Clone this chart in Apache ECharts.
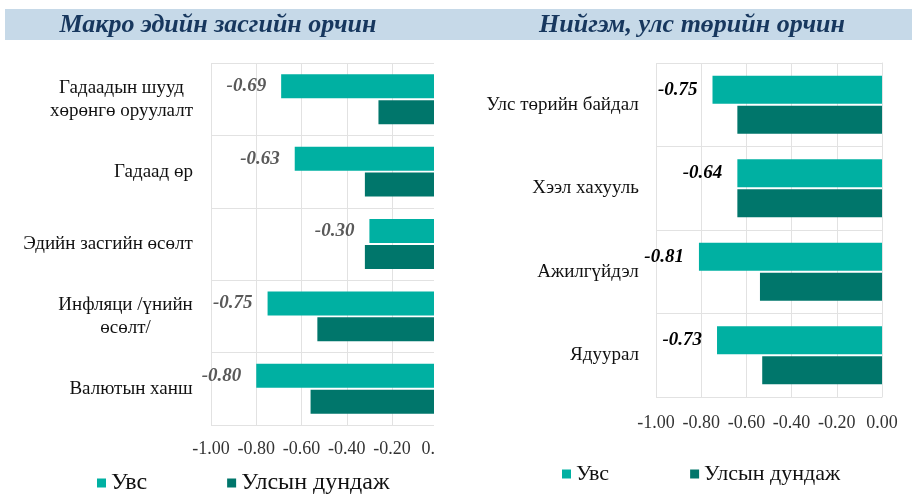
<!DOCTYPE html>
<html>
<head>
<meta charset="utf-8">
<script src="https://cdn.jsdelivr.net/npm/echarts@6/dist/echarts.min.js"></script>
<style>
html,body{margin:0;padding:0;background:#fff;}
#chart{width:912px;height:495px;}
</style>
</head>
<body>
<div id="chart"></div>
<script>
// ---- Data ----
const titleLeft = 'Макро эдийн засгийн орчин';
const titleRight = 'Нийгэм, улс төрийн орчин';
const seriesNames = ['Увс', 'Улсын дундаж'];

const catsLeft = ['Гадаадын шууд\nхөрөнгө оруулалт', 'Гадаад өр', 'Эдийн засгийн өсөлт', 'Инфляци /үнийн\nөсөлт/', 'Валютын ханш'];
const uvsLeft = [-0.69, -0.63, -0.30, -0.75, -0.80];
const avgLeft = [-0.26, -0.32, -0.32, -0.53, -0.56];

const catsRight = ['Улс төрийн байдал', 'Хээл хахууль', 'Ажилгүйдэл', 'Ядуурал'];
const uvsRight = [-0.75, -0.64, -0.81, -0.73];
const avgRight = [-0.64, -0.64, -0.54, -0.53];

const xMin = -1, xMax = 0, xInterval = 0.2;

// ---- Styles ----
const SERIF = '"Liberation Serif", "Times New Roman", serif';
const cLight = '#00B0A2';
const cDark = '#00766B';
const gridColor = '#E2E2E2';

const measureCtx = document.createElement('canvas').getContext('2d');
function buildRich(cats, size, lh) {
  measureCtx.font = size + 'px ' + SERIF;
  const rich = {};
  cats.forEach((c, i) => {
    const lines = c.split('\n');
    const w = Math.ceil(Math.max.apply(null, lines.map(l => measureCtx.measureText(l).width)));
    rich['c' + i] = {width: w, align: 'center', fontSize: size, fontFamily: SERIF, color: '#111', lineHeight: lh};
  });
  return rich;
}
function richFormatter(cats) {
  return function (val) {
    const i = cats.indexOf(val);
    return val.split('\n').map(l => '{c' + i + '|' + l + '}').join('\n');
  };
}

function xAxisCfg(gridIndex, margin) {
  return {
    gridIndex: gridIndex, type: 'value', min: xMin, max: xMax, interval: xInterval,
    axisLine: {show: false}, axisTick: {show: false},
    splitLine: {show: true, lineStyle: {color: gridColor, width: 1}},
    axisLabel: {formatter: v => v.toFixed(2), fontFamily: SERIF, fontSize: 18, color: '#333', margin: margin}
  };
}
function yAxisCfg(gridIndex, cats, margin) {
  return {
    gridIndex: gridIndex, type: 'category', data: cats, inverse: true,
    axisLine: {show: true, lineStyle: {color: gridColor}}, axisTick: {show: false},
    splitLine: {show: true, lineStyle: {color: gridColor, width: 1}},
    axisLabel: {margin: margin, fontFamily: SERIF, fontSize: 19, color: '#111', lineHeight: 23,
      formatter: richFormatter(cats), rich: buildRich(cats, 19, 23)}
  };
}
function barSeries(name, data, axisIdx, color, width, gap, label, labelColor) {
  const s = {
    name: name, type: 'bar', xAxisIndex: axisIdx, yAxisIndex: axisIdx, data: data,
    barWidth: width, barGap: gap,
    itemStyle: {color: color},
    animation: false
  };
  if (label) {
    s.label = {show: true, position: 'left', distance: 15, formatter: p => p.value.toFixed(2),
      fontFamily: SERIF, fontSize: 19, fontWeight: 'bold', fontStyle: 'italic', color: labelColor};
  }
  return s;
}

const chart = echarts.init(document.getElementById('chart'), null, {renderer: 'canvas'});
chart.setOption({
  backgroundColor: '#fff',
  animation: false,
  grid: [
    {left: 211, right: 912 - 437.3, top: 63, bottom: 495 - 425},
    {left: 656, right: 912 - 882, top: 63, bottom: 495 - 397}
  ],
  xAxis: [xAxisCfg(0, 15), xAxisCfg(1, 17)],
  yAxis: [yAxisCfg(0, catsLeft, 18), yAxisCfg(1, catsRight, 17)],
  legend: [
    {left: 97, top: 471, padding: 0, itemWidth: 9, itemHeight: 9, icon: 'rect', itemGap: 80, data: seriesNames,
      textStyle: {fontFamily: SERIF, fontSize: 24, color: '#111'}, selectedMode: false},
    {left: 562, top: 463, padding: 0, itemWidth: 9, itemHeight: 9, icon: 'rect', itemGap: 81, data: seriesNames,
      textStyle: {fontFamily: SERIF, fontSize: 22, color: '#111'}, selectedMode: false}
  ],
  series: [
    barSeries(seriesNames[0], uvsLeft, 0, cLight, 24, '8%', true, '#595959'),
    barSeries(seriesNames[1], avgLeft, 0, cDark, 24, '8%', false),
    barSeries(seriesNames[0], uvsRight, 1, cLight, 28, '7%', true, '#000'),
    barSeries(seriesNames[1], avgRight, 1, cDark, 28, '7%', false)
  ],
  graphic: [
    {type: 'rect', left: 5, top: 9, shape: {width: 907, height: 31}, style: {fill: '#C6D9E8'}, silent: true},
    {type: 'rect', left: 434, top: 52, shape: {width: 20, height: 410}, style: {fill: '#fff'}, silent: true, z: 100},
    {type: 'text', x: 218, y: 25, style: {text: titleLeft, fontFamily: SERIF, fontSize: 26, fontWeight: 'bold', fontStyle: 'italic',
      fill: '#17375E', textAlign: 'center', textVerticalAlign: 'middle'}},
    {type: 'text', x: 692, y: 25, style: {text: titleRight, fontFamily: SERIF, fontSize: 26, fontWeight: 'bold', fontStyle: 'italic',
      fill: '#17375E', textAlign: 'center', textVerticalAlign: 'middle'}}
  ]
});
</script>
</body>
</html>
